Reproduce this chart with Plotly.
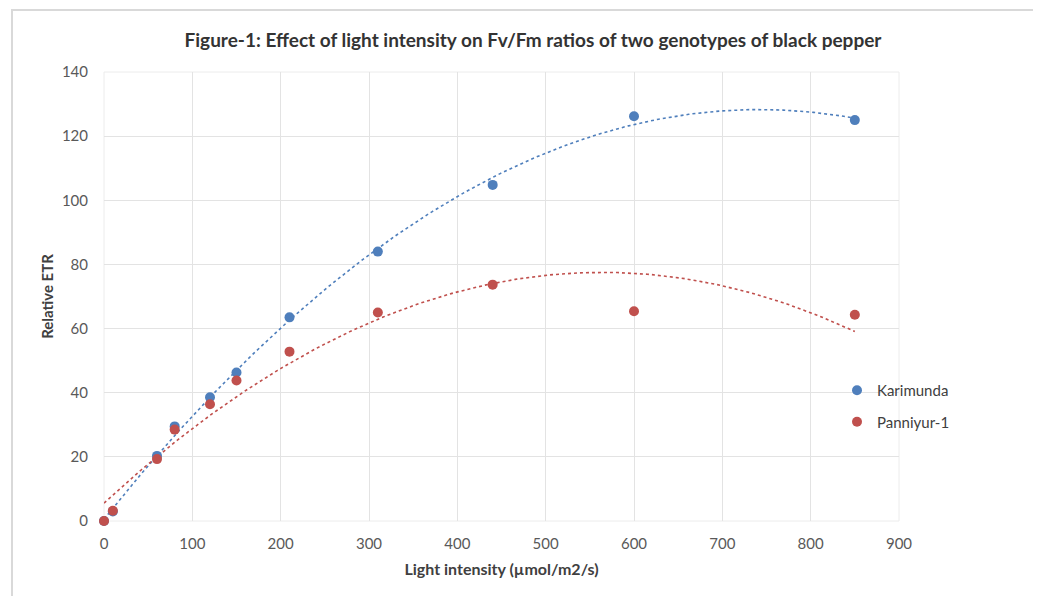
import numpy as np
import plotly.graph_objects as go

light = [0, 10, 60, 80, 120, 150, 210, 310, 440, 600, 850]
karimunda = [0, 3, 20.3, 29.5, 38.6, 46.3, 63.5, 84, 104.8, 126.2, 125]
panniyur = [0, 3.2, 19.3, 28.5, 36.4, 43.8, 52.8, 65, 73.7, 65.4, 64.3]
series_names = ["Karimunda", "Panniyur-1"]
colors = ["#4f7fbc", "#c0504d"]
x_ticks = [0, 100, 200, 300, 400, 500, 600, 700, 800, 900]
y_ticks = [0, 20, 40, 60, 80, 100, 120, 140]

FONT = "Lato"
# plot area in figure pixels
L, R, T, B = 96, 891, 64, 513
W, H = R - L, B - T

fig = go.Figure()

xs = np.linspace(min(light), max(light), 200)
for i, (name, vals) in enumerate(zip(series_names, [karimunda, panniyur])):
    coef = np.polyfit(light, vals, 2)
    fig.add_trace(go.Scatter(x=xs, y=np.polyval(coef, xs), mode="lines",
                             line=dict(color=colors[i], width=1.6, dash="dot"),
                             showlegend=False, hoverinfo="skip"))
for i, (name, vals) in enumerate(zip(series_names, [karimunda, panniyur])):
    fig.add_trace(go.Scatter(x=light, y=vals, mode="markers", name=name,
                             legendgroup=name, cliponaxis=False,
                             marker=dict(color=colors[i], size=10)))

fig.update_layout(
    width=1041, height=596,
    paper_bgcolor="white", plot_bgcolor="white",
    margin=dict(l=L, r=1041 - R, t=T, b=596 - B),
    title=dict(text="<b>Figure-1: Effect of light intensity on Fv/Fm ratios of two genotypes of black pepper</b>",
               x=(533 - 8) / 1041, xanchor="center", y=1 - 32 / 596, yanchor="middle",
               font=dict(family=FONT, size=19, color="#333333")),
    xaxis=dict(range=[0, 900], tickvals=x_ticks, showgrid=True, gridcolor="#e3e3e3",
               gridwidth=1, zeroline=False, showline=False,
               tickfont=dict(family=FONT, size=15, color="#595959"),
               ticklabelstandoff=12,
               title=dict(text="<b>Light intensity (µmol/m2/s)</b>", standoff=12,
                          font=dict(family=FONT, size=16, color="#404040"))),
    yaxis=dict(range=[0, 140], tickvals=y_ticks, showgrid=True, gridcolor="#e3e3e3",
               gridwidth=1, zeroline=False, showline=False,
               tickfont=dict(family=FONT, size=15, color="#595959"),
               ticklabelstandoff=15,
               title=dict(text="<b>Relative ETR</b>", standoff=4,
                          font=dict(family=FONT, size=15, color="#404040"))),
    legend=dict(x=(829 - L) / W, y=(B - 366) / H, xanchor="left", yanchor="top",
                tracegroupgap=9, font=dict(family=FONT, size=15, color="#404040"),
                bgcolor="rgba(0,0,0,0)"),
    shapes=[
        dict(type="rect", xref="paper", yref="paper",
             x0=(4 - L) / W, x1=(1050 - L) / W,
             y0=(B - 600) / H, y1=(B - 2) / H,
             line=dict(color="#d9d9d9", width=2), fillcolor="rgba(0,0,0,0)", layer="below"),
        dict(type="rect", xref="paper", yref="paper", x0=0, x1=1, y0=0, y1=1,
             line=dict(color="#ececec", width=1), fillcolor="rgba(0,0,0,0)", layer="below"),
    ],
)
fig.write_html("out.html")
